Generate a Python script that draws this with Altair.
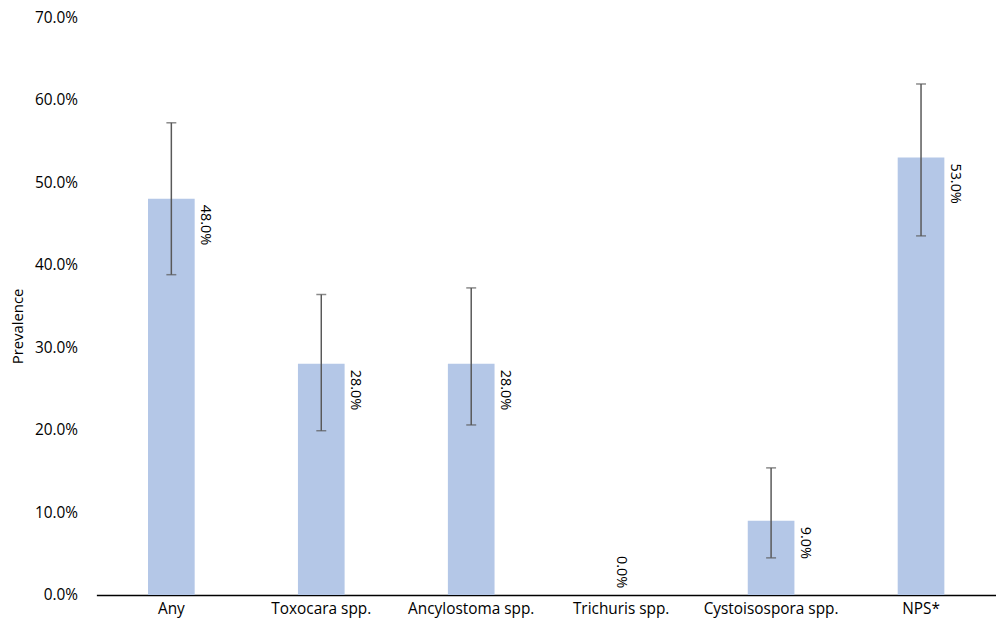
import altair as alt
import pandas as pd

categories = ["Any", "Toxocara spp.", "Ancylostoma spp.", "Trichuris spp.", "Cystoisospora spp.", "NPS*"]
prevalence = [0.48, 0.28, 0.28, 0.0, 0.09, 0.53]
ci_low = [0.388, 0.199, 0.206, None, 0.045, 0.435]
ci_high = [0.572, 0.364, 0.372, None, 0.154, 0.619]
y_ticks = [0.0, 0.1, 0.2, 0.3, 0.4, 0.5, 0.6, 0.7]

df = pd.DataFrame({"cat": categories, "val": prevalence, "lo": ci_low, "hi": ci_high})
df["label"] = [f"{v*100:.1f}%" for v in prevalence]

FONT = "Open Sans"
x = alt.X("cat:N", sort=categories, title=None,
          scale=alt.Scale(paddingInner=0, paddingOuter=0),
          axis=alt.Axis(labelAngle=0, ticks=False, domainColor="#000000", domainWidth=1.5,
                        labelFontSize=15.5, labelFont=FONT, labelColor="#000000", labelPadding=7))
y = alt.Y("val:Q", title="Prevalence",
          scale=alt.Scale(domain=[0, 0.7], nice=False),
          axis=alt.Axis(values=y_ticks, format=".1%", grid=False, domain=False, ticks=False,
                        labelFontSize=15.5, labelFont=FONT, labelColor="#000000", labelPadding=19,
                        titleFontSize=15, titleFont=FONT, titleFontWeight="normal", titleColor="#000000",
                        titleAngle=-90, titleX=-79, titleY=311, titleAlign="center", titleBaseline="middle"))

base = alt.Chart(df)
bars = base.mark_bar(size=47, color="#b4c7e7").encode(x=x, y=y)
errs = base.transform_filter("datum.lo != null").mark_rule(color="#595959", strokeWidth=1.5).encode(
    x=alt.X("cat:N", sort=categories), y="lo:Q", y2="hi:Q")
cap_lo = base.transform_filter("datum.lo != null").mark_tick(color="#595959", size=10, thickness=1.5).encode(
    x=alt.X("cat:N", sort=categories), y="lo:Q")
cap_hi = base.transform_filter("datum.lo != null").mark_tick(color="#595959", size=10, thickness=1.5).encode(
    x=alt.X("cat:N", sort=categories), y="hi:Q")
labels = base.transform_filter("datum.val > 0").mark_text(
    angle=90, align="left", baseline="middle", dx=6, dy=-34, fontSize=14.5, font=FONT, color="#000000").encode(
    x=alt.X("cat:N", sort=categories), y="val:Q", text="label:N")
labels0 = base.transform_filter("datum.val <= 0").mark_text(
    angle=90, align="right", baseline="middle", dx=-7, dy=0, fontSize=14.5, font=FONT, color="#000000").encode(
    x=alt.X("cat:N", sort=categories), y="val:Q", text="label:N")

chart = alt.layer(bars, errs, cap_lo, cap_hi, labels, labels0).properties(
    width=906, height=582,
    autosize=alt.AutoSizeParams(type="none"),
    padding={"left": 89, "top": 7, "right": 0, "bottom": 25},
).configure_view(stroke=None)

chart.save("out.html", embed_options={"renderer": "svg", "actions": False})
